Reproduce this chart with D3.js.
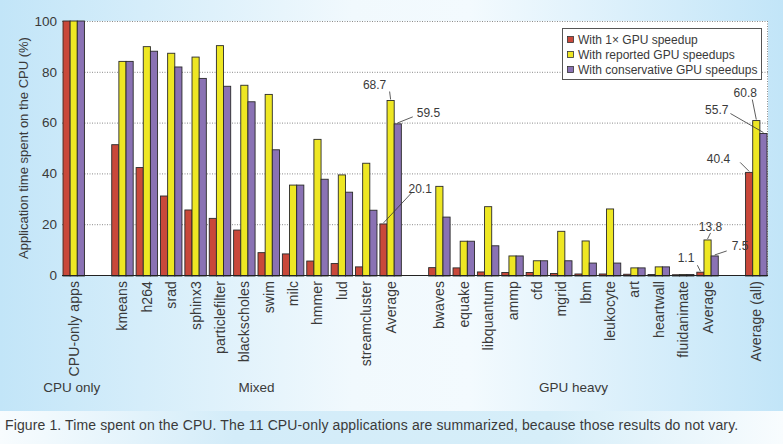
<!DOCTYPE html>
<html><head><meta charset="utf-8">
<script src="https://cdn.jsdelivr.net/npm/d3@7"></script>
<style>html,body{margin:0;padding:0;}svg{display:block;font-family:"Liberation Sans",Arial,sans-serif;}</style>
</head><body>
<svg id="chart" width="783" height="444"></svg>
<script>
// ---- data ----
const categories = ["CPU-only apps","", "kmeans","h264","srad","sphinx3","particlefilter","blackscholes","swim","milc","hmmer","lud","streamcluster","Average","",
  "bwaves","equake","libquantum","ammp","cfd","mgrid","lbm","leukocyte","art","heartwall","fluidanimate","Average","","Average (all)"];
const series = ["With 1\u00d7 GPU speedup","With reported GPU speedups","With conservative GPU speedups"];
const speedup1x   = [100,0, 51.3,42.3,31.1,25.6,22.3,17.7,8.8,8.3,5.5,4.5,3.2,20.1,0, 2.9,2.8,1.2,1.0,1.0,0.6,0.4,0.4,0.3,0.2,0.1,1.1,0, 40.4];
const reported    = [100,0, 84.1,89.9,87.3,85.8,90.3,74.7,71.1,35.4,53.4,39.4,44.0,68.7,0, 34.9,13.3,26.9,7.5,5.6,17.2,13.4,26.0,2.8,3.2,0.2,13.8,0, 60.8];
const conservative= [100,0, 84.1,88.1,81.9,77.4,74.3,68.2,49.3,35.4,37.7,32.6,25.5,59.5,0, 22.8,13.3,11.5,7.5,5.6,5.6,4.7,4.7,2.8,3.2,0.2,7.5,0, 55.7];
const yTicks = [0,20,40,60,80,100];
const groupLabels = ["CPU only","Mixed","GPU heavy"];
const groupSpans = [[0,0],[2,13],[15,26]];
const annotated = [ // [category index, series index]
  [13,1],[13,2],[13,0],[28,1],[28,2],[28,0],[26,1],[26,2],[26,0]];
const caption = "Figure 1. Time spent on the CPU. The 11 CPU-only applications are summarized, because those results do not vary.";
const yTitle = "Application time spent on the CPU (%)";

// ---- layout / style ----
const W=783,H=444, pLeft=62, pRight=768, pTop=21, pBottom=275;
const colors=["#c9483a","#eee723","#8a72b4"];
const annOffsets = [ // label anchor offset (dx,dy from bar top), leader end offset
  {dx:-16,dy:-12, lx:-1,ly:-9}, {dx:19,dy:-7, lx:15,ly:-7}, {dx:25,dy:-31, lx:28,ly:-31},
  {dx:-11,dy:-24, lx:-4,ly:-21}, {dx:-35,dy:-20, lx:-33,ly:-20}, {dx:-19,dy:-9, lx:-9,ly:-10},
  {dx:3,dy:-9, lx:3,ly:-7}, {dx:17,dy:-6, lx:12,ly:-5}, {dx:-6,dy:-10, lx:-3,ly:-7}];
const annAnchor = ["middle","start","start","middle","end","end","middle","start","end"];

const svg=d3.select("#chart");
const defs=svg.append("defs");
const g1=defs.append("linearGradient").attr("id","bgTop");
[[0,"#c2e5f8"],[0.45,"#f1f9fd"],[0.6,"#f3fafe"],[1,"#c2e5f8"]].forEach(s=>g1.append("stop").attr("offset",s[0]).attr("stop-color",s[1]));
const g2=defs.append("linearGradient").attr("id","bgCap");
[[0,"#f8fcfe"],[0.3,"#d3ecf9"],[0.7,"#d6eef9"],[1,"#f8fcfe"]].forEach(s=>g2.append("stop").attr("offset",s[0]).attr("stop-color",s[1]));
svg.append("rect").attr("width",W).attr("height",411).attr("fill","url(#bgTop)");
svg.append("rect").attr("y",411).attr("width",W).attr("height",H-411).attr("fill","url(#bgCap)");

const x=d3.scaleBand().domain(d3.range(categories.length)).range([pLeft,pRight]).paddingInner(0.12).paddingOuter(0.04);
const xs=d3.scaleBand().domain(d3.range(3)).range([0,x.bandwidth()]);
const y=d3.scaleLinear().domain([0,100]).range([pBottom,pTop]);

svg.append("rect").attr("x",pLeft).attr("y",pTop).attr("width",pRight-pLeft).attr("height",pBottom-pTop).attr("fill","#fff");

// grid
svg.append("g").selectAll("line").data(yTicks.filter(d=>d>0)).join("line")
  .attr("x1",pLeft).attr("x2",pRight).attr("y1",d=>y(d)+0.5).attr("y2",d=>y(d)+0.5)
  .attr("stroke","#8a8a8a").attr("stroke-dasharray","1,1.5");
svg.append("line").attr("x1",pRight-0.5).attr("x2",pRight-0.5).attr("y1",pTop).attr("y2",pBottom)
  .attr("stroke","#8a8a8a").attr("stroke-dasharray","1,1.5");

// y axis
const ya=svg.append("g").attr("transform",`translate(${pLeft},0)`)
  .call(d3.axisLeft(y).tickValues(yTicks).tickSize(0).tickPadding(5));
ya.select(".domain").remove();
ya.selectAll("text").attr("font-size",13.5).attr("fill","#3a3a3a").attr("font-family","Liberation Sans, Arial");
svg.append("text").attr("transform",`translate(28,${(pTop+pBottom)/2}) rotate(-90)`)
  .attr("text-anchor","middle").attr("font-size",13).attr("fill","#3a3a3a").text(yTitle);

// bars
const allSeries=[speedup1x,reported,conservative];
const bars=svg.append("g");
allSeries.forEach((vals,si)=>{
  bars.selectAll(null).data(vals.map((v,i)=>({v,i})).filter(d=>categories[d.i]!=="")).join("rect")
    .attr("x",d=>x(d.i)+xs(si)).attr("width",xs.bandwidth())
    .attr("y",d=>y(d.v)).attr("height",d=>y(0)-y(d.v)+1)
    .attr("fill",colors[si]).attr("stroke","#2a2a2a").attr("stroke-width",0.9);
});
svg.append("line").attr("x1",pLeft).attr("x2",pRight).attr("y1",pBottom+0.5).attr("y2",pBottom+0.5).attr("stroke","#222").attr("stroke-width",1);

// category labels
svg.append("g").selectAll("text").data(categories.map((c,i)=>({c,i})).filter(d=>d.c!=="")).join("text")
  .attr("transform",d=>`translate(${x(d.i)+x.bandwidth()/2+5},281) rotate(-90)`)
  .attr("text-anchor","end").attr("font-size",14).attr("letter-spacing",0.1).attr("fill","#3a3a3a").text(d=>d.c);

// group labels
svg.append("g").selectAll("text").data(groupLabels).join("text")
  .attr("x",(d,i)=>(x(groupSpans[i][0])+x(groupSpans[i][1])+x.bandwidth())/2 + (i==0?-2:0))
  .attr("y",392).attr("text-anchor","middle").attr("font-size",13.5).attr("fill","#3a3a3a").text(d=>d);

// annotations
annotated.forEach(([ci,si],k)=>{
  const v=allSeries[si][ci];
  const bx=x(ci)+xs(si)+xs.bandwidth()/2, by=y(v);
  const o=annOffsets[k];
  svg.append("line").attr("x1",bx).attr("y1",by-1).attr("x2",bx+o.lx).attr("y2",by+o.ly)
    .attr("stroke","#333").attr("stroke-width",0.8);
  svg.append("text").attr("x",bx+o.dx).attr("y",by+o.dy).attr("text-anchor",annAnchor[k])
    .attr("font-size",12).attr("fill","#3a3a3a").text(v.toFixed(1));
});

// legend
const lg=svg.append("g").attr("transform","translate(562,28)");
lg.append("rect").attr("x",0.5).attr("y",0.5).attr("width",199).attr("height",51).attr("fill","#fff").attr("stroke","#555");
series.forEach((s,i)=>{
  lg.append("rect").attr("x",5.5).attr("y",8.5+i*15).attr("width",6).attr("height",6).attr("fill",colors[i]).attr("stroke","#333").attr("stroke-width",0.8);
  lg.append("text").attr("x",16).attr("y",16+i*15).attr("font-size",12).attr("fill","#3a3a3a").text(s);
});

// caption
svg.append("text").attr("x",5).attr("y",430).attr("font-size",14).attr("letter-spacing",0.12).attr("fill","#3a3a3a").text(caption);
</script>
</body></html>
